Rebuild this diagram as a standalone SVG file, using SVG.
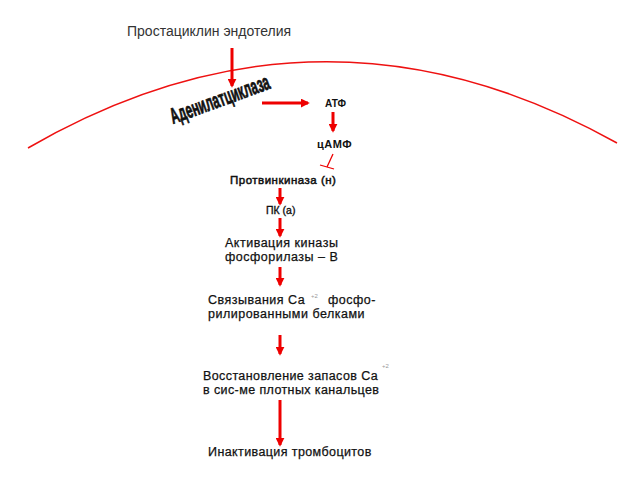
<svg xmlns="http://www.w3.org/2000/svg" width="640" height="480" viewBox="0 0 640 480">
<defs>
<marker id="ah" viewBox="0 0 10 10" refX="8" refY="5" markerWidth="3" markerHeight="3" orient="auto" markerUnits="strokeWidth">
<path d="M0,0 L10,5 L0,10 z" fill="#ee0000"/>
</marker>
</defs>
<style>
.t{font-family:"Liberation Sans",Arial,sans-serif;fill:#111;stroke:#111;stroke-width:0.25;}
.c{stroke:#ee0000;stroke-width:3;fill:none;marker-end:url(#ah);}
.thin{stroke:#ee0000;stroke-width:1.3;fill:none;}
.sup{font-family:"Liberation Sans",Arial,sans-serif;fill:#999;font-size:6px;}
</style>
<rect width="640" height="480" fill="#fff"/>
<path id="membrane" d="M28,148 Q322,-22 617,143" stroke="#ee1111" stroke-width="1.5" fill="none"/>
<g id="connectors">
<line class="c" x1="232" y1="48" x2="232" y2="86"/>
<line class="c" x1="262" y1="103" x2="308" y2="103"/>
<line class="c" x1="333" y1="112" x2="333" y2="131"/>
<g id="inhibit">
<line class="thin" x1="333" y1="154" x2="327" y2="167"/>
<line class="thin" x1="320" y1="165" x2="334" y2="169"/>
</g>
<line class="c" x1="280" y1="188" x2="280" y2="204"/>
<line class="c" x1="280" y1="218" x2="280" y2="236"/>
<line class="c" x1="280" y1="267" x2="280" y2="285"/>
<line class="c" x1="280" y1="335" x2="280" y2="354"/>
<line class="c" x1="280" y1="400" x2="280" y2="445"/>
</g>
<g id="prostacyclin"><text x="127" y="36" font-size="14" font-family="Liberation Sans, Arial, sans-serif" fill="#333">Простациклин эндотелия</text></g>
<g id="adenylate"><text class="t" transform="translate(173,124) rotate(-20) scale(0.7,1.3)" font-size="17" font-weight="bold" style="stroke-width:0.6">Аденилатциклаза</text></g>
<g id="atf"><text class="t" x="325" y="107" font-size="10" font-weight="bold" style="stroke-width:0">АТФ</text></g>
<g id="camp"><text class="t" x="317" y="148" font-size="11" font-weight="bold" letter-spacing="0.5" style="stroke-width:0">цАМФ</text></g>
<g id="pkn"><text class="t" x="230" y="184" font-size="11.5" letter-spacing="0.5" style="stroke-width:0.5">Протвинкиназа (н)</text></g>
<g id="pka"><text class="t" x="266" y="214" font-size="10.5" style="stroke-width:0.35">ПК (а)</text></g>
<g id="activation"><text class="t" x="225" y="247" font-size="12.5" letter-spacing="0.5">Активация киназы</text><text class="t" x="225" y="261" font-size="12.5" letter-spacing="0.5">фосфорилазы – В</text></g>
<g id="binding"><text class="t" x="208" y="304" font-size="12.5" letter-spacing="0.5">Связывания Са</text><text class="sup" x="311" y="298">+2</text><text class="t" x="328" y="304" font-size="12.5" letter-spacing="0.5">фосфо-</text><text class="t" x="208" y="318" font-size="12.5" letter-spacing="0.5">рилированными белками</text></g>
<g id="restore"><text class="t" x="203" y="380" font-size="12.5" letter-spacing="0.4">Восстановление запасов Са</text><text class="sup" x="382" y="368">+2</text><text class="t" x="203" y="394" font-size="12.5" letter-spacing="0.4">в сис-ме плотных канальцев</text></g>
<g id="inactivation"><text class="t" x="208" y="456" font-size="12.5" letter-spacing="0.4">Инактивация тромбоцитов</text></g>
</svg>
